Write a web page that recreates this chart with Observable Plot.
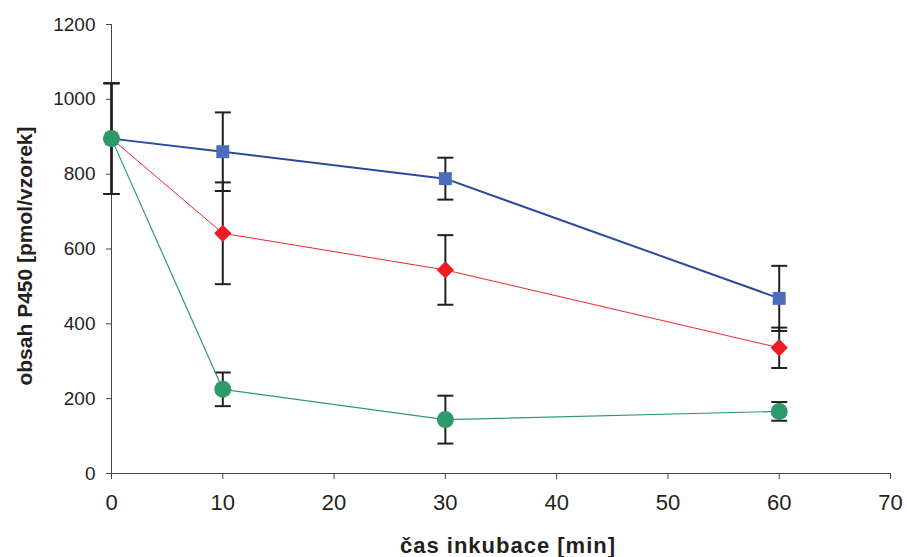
<!DOCTYPE html>
<html>
<head>
<meta charset="utf-8">
<script src="https://cdn.jsdelivr.net/npm/d3@7"></script>
<script src="https://cdn.jsdelivr.net/npm/@observablehq/plot@0.6"></script>
<style>
  html, body { margin: 0; padding: 0; background: #fff; }
  #chart svg { display: block; }
</style>
</head>
<body>
<div id="chart"></div>
<script>
// Incubation time [min]
const times = [0, 10, 30, 60];
// Series values [pmol/vzorek] and error bar half-widths
const blueMeans  = [895, 860, 788, 468];
const blueErrs   = [148, 105, 56, 87];
const redMeans   = [895, 642, 544, 336];
const redErrs    = [148, 136, 93, 54];
const greenMeans = [895, 225, 144, 166];
const greenErrs  = [148, 45, 64, 25];
// Axis ticks
const xTicks = [0, 10, 20, 30, 40, 50, 60, 70];
const yTicks = [0, 200, 400, 600, 800, 1000, 1200];

const makeRows = (name, means, errs) =>
  times.map((t, i) => ({series: name, time: t, mean: means[i], err: errs[i]}));
const blueRows = makeRows("blue", blueMeans, blueErrs);
const redRows = makeRows("red", redMeans, redErrs);
const greenRows = makeRows("green", greenMeans, greenErrs);
const allRows = [...blueRows, ...redRows, ...greenRows];

const capSymbol = {
  draw(ctx) { ctx.moveTo(-8, 0); ctx.lineTo(8, 0); }
};

const errMarks = (rows) => [
  Plot.ruleX(rows, {x: "time", y1: d => d.mean - d.err, y2: d => d.mean + d.err, stroke: "#231f20", strokeWidth: 2}),
  Plot.dot(rows, {x: "time", y: d => d.mean + d.err, symbol: capSymbol, r: 4, fill: "none", stroke: "#231f20", strokeWidth: 2}),
  Plot.dot(rows, {x: "time", y: d => d.mean - d.err, symbol: capSymbol, r: 4, fill: "none", stroke: "#231f20", strokeWidth: 2})
];

const chart = Plot.plot({
  width: 907,
  height: 557,
  marginLeft: 111,
  marginRight: 17,
  marginTop: 24,
  marginBottom: 84,
  style: {fontSize: "19px", fontFamily: "'Liberation Sans', Arial, sans-serif", color: "#231f20", background: "#fff"},
  x: {domain: [0, 70], ticks: xTicks, tickFormat: "d", tickSize: 6, tickPadding: 15, label: "čas inkubace [min]", labelAnchor: "center", labelOffset: 79, labelArrow: "none"},
  y: {domain: [0, 1200], ticks: yTicks, tickFormat: "d", tickSize: 5, tickPadding: 11, label: "obsah P450 [pmol/vzorek]", labelAnchor: "center", labelOffset: 94, labelArrow: "none"},
  marks: [
    Plot.ruleX([0], {stroke: "#444", strokeWidth: 1}),
    Plot.ruleY([0], {stroke: "#444", strokeWidth: 1}),
    ...errMarks(allRows),
    Plot.line(blueRows, {x: "time", y: "mean", stroke: "#2b4a9f", strokeWidth: 2}),
    Plot.line(redRows, {x: "time", y: "mean", stroke: "#f0262b", strokeWidth: 1}),
    Plot.line(greenRows, {x: "time", y: "mean", stroke: "#2e9a6b", strokeWidth: 1.2}),
    Plot.dot(blueRows, {x: "time", y: "mean", symbol: "square", r: 7.3, fill: "#4a6cbb", stroke: "none"}),
    Plot.dot(redRows, {x: "time", y: "mean", symbol: "diamond2", r: 7.8, fill: "#ec1c24", stroke: "none"}),
    Plot.dot(greenRows, {x: "time", y: "mean", symbol: "circle", r: 8.5, fill: "#2e9a6b", stroke: "none"})
  ]
});

const svg = d3.select(chart);
svg.selectAll('[aria-label="y-axis tick label"]').attr("font-size", "19px")
  .selectAll("text").attr("font-size", "19px");
svg.selectAll('[aria-label="x-axis tick label"]').attr("font-size", "22px")
  .selectAll("text").attr("font-size", "22px");
svg.selectAll('[aria-label="y-axis label"]').attr("font-weight", "bold").attr("font-size", "21px")
  .selectAll("text").attr("font-weight", "bold").attr("font-size", "21px").attr("dx", -7);
svg.selectAll('[aria-label="x-axis label"]').attr("font-weight", "bold").attr("font-size", "22px")
  .selectAll("text").attr("font-weight", "bold").attr("font-size", "22px").attr("dx", 7).style("letter-spacing", "1px");
svg.selectAll('[aria-label="x-axis tick"], [aria-label="y-axis tick"]').attr("stroke", "#444");
document.getElementById("chart").appendChild(chart);
</script>
</body>
</html>
